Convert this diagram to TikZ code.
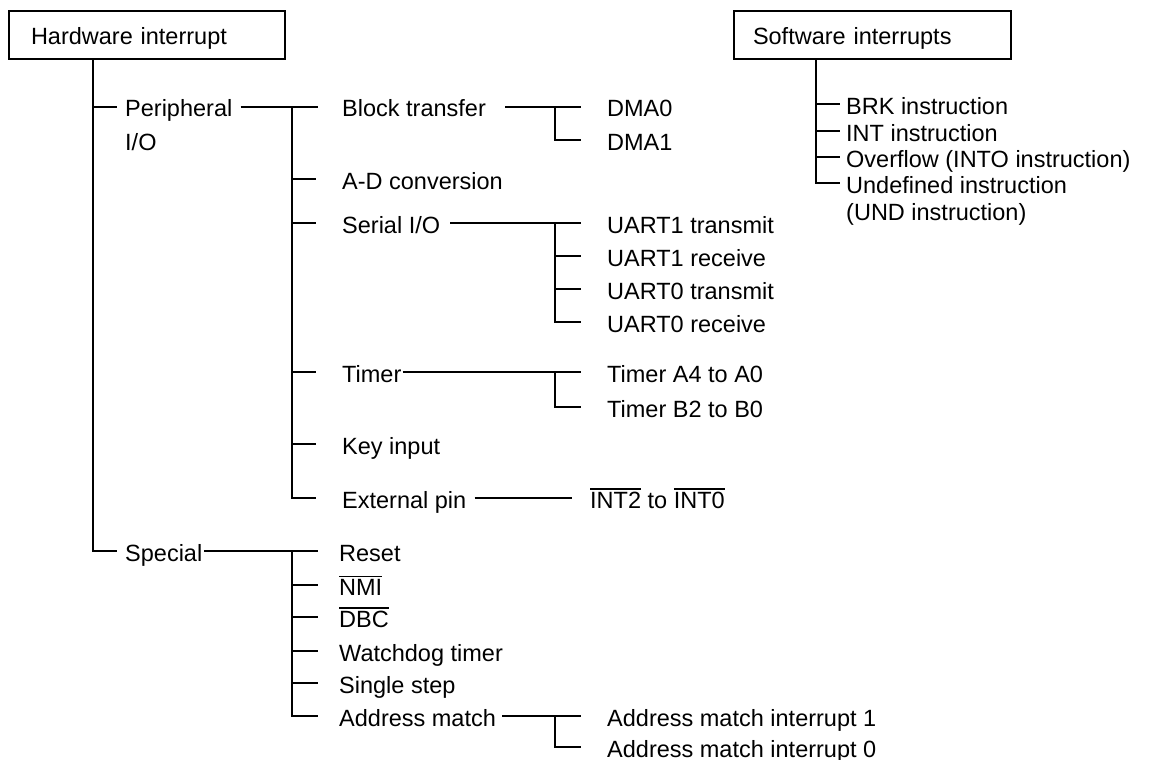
\documentclass[tikz,border=0pt]{standalone}
\usepackage{fontspec}
\setmainfont{Liberation Sans}
\newcommand\ovl[1]{\leavevmode\vbox{\hrule height 1.4pt\kern 1.8pt\hbox{#1}}}
\begin{document}
\begin{tikzpicture}[x=1pt,y=-1pt,
  every node/.style={font=\fontsize{23.5}{28}\selectfont},
  lbl/.style={anchor=west, inner sep=0pt, text height=22pt, text depth=2pt},
  hdr/.style={draw, line width=2pt, anchor=west, align=left, inner ysep=0pt,
              minimum height=48pt, text height=22pt, text depth=2pt},
  ln/.style={line width=2pt}]
\useasboundingbox (0,0) rectangle (1160,760);

% header boxes
\node[hdr, inner xsep=22pt, text width=232pt] (hw) at (8,35) {Hardware interrupt};
\node[hdr, inner xsep=19pt, text width=239pt] (sw) at (733,35) {Software interrupts};

% spine x positions
\coordinate (m) at (93,0);
\coordinate (p) at (292,0);
\coordinate (q) at (555,0);
\coordinate (s) at (816,0);

% level 1
\node[lbl] (per) at (125,107) {Peripheral};
\node[lbl] (per2) at (125,140) {I/O};
\node[lbl] (spc) at (125,551) {Special};

% peripheral I/O
\node[lbl] (blk) at (342,107) {Block transfer};
\node[lbl] (adc) at (342,179) {A-D conversion};
\node[lbl] (ser) at (342,223) {Serial I/O};
\node[lbl] (tim) at (342,372) {Timer};
\node[lbl] (key) at (342,444) {Key input};
\node[lbl] (ext) at (342,498) {External pin};

\node[lbl] (dma0) at (607,107) {DMA0};
\node[lbl] (dma1) at (607,140) {DMA1};
\node[lbl] (u1t) at (607,223) {UART1 transmit};
\node[lbl] (u1r) at (607,256) {UART1 receive};
\node[lbl] (u0t) at (607,289) {UART0 transmit};
\node[lbl] (u0r) at (607,322) {UART0 receive};
\node[lbl] (ta) at (607,372) {Timer A4 to A0};
\node[lbl] (tb) at (607,407) {Timer B2 to B0};
\node[lbl] (int) at (590,498) {\ovl{INT2} to \ovl{INT0}};

% special
\node[lbl] (rst) at (339,551) {Reset};
\node[lbl] (nmi) at (339,585) {\ovl{NMI}};
\node[lbl] (dbc) at (339,617) {\ovl{DBC}};
\node[lbl] (wdt) at (339,651) {Watchdog timer};
\node[lbl] (sst) at (339,683) {Single step};
\node[lbl] (adm) at (339,716) {Address match};
\node[lbl] (am1) at (607,716) {Address match interrupt 1};
\node[lbl] (am0) at (607,747) {Address match interrupt 0};

% software
\node[lbl] (brk) at (846,104) {BRK instruction};
\node[lbl] (intn) at (846,131) {INT instruction};
\node[lbl] (ovf) at (846,157) {Overflow (INTO instruction)};
\node[lbl] (und) at (846,183) {Undefined instruction};
\node[lbl] (und2) at (846,210) {(UND instruction)};

% connectors: hardware
\draw[ln, shorten >=8pt] (hw.south -| m) |- (spc.west);
\draw[ln, shorten >=8pt] (m |- per.west) -- (per.west);
\draw[ln, shorten <=8pt, shorten >=24pt] (per.east) -- (blk.west);
\draw[ln, shorten >=26pt] (p |- blk.west) |- (ext.west);
\foreach \n in {adc,ser,tim,key}
  \draw[ln, shorten >=26pt] (p |- \n.west) -- (\n.west);
\draw[ln, shorten <=19pt, shorten >=26pt] (blk.east) -- (dma0.west);
\draw[ln, shorten >=26pt] (q |- dma0.west) |- (dma1.west);
\draw[ln, shorten <=10pt, shorten >=26pt] (ser.east) -- (u1t.west);
\draw[ln, shorten >=26pt] (q |- u1t.west) |- (u0r.west);
\foreach \n in {u1r,u0t}
  \draw[ln, shorten >=26pt] (q |- \n.west) -- (\n.west);
\draw[ln, shorten <=1pt, shorten >=26pt] (tim.east) -- (ta.west);
\draw[ln, shorten >=26pt] (q |- ta.west) |- (tb.west);
\draw[ln, shorten <=8pt, shorten >=18pt] (ext.east) -- (int.west);
% special
\draw[ln, shorten <=2pt, shorten >=21pt] (spc.east) -- (rst.west);
\draw[ln, shorten >=21pt] (p |- rst.west) |- (adm.west);
\foreach \n in {nmi,dbc,wdt,sst}
  \draw[ln, shorten >=21pt] (p |- \n.west) -- (\n.west);
\draw[ln, shorten <=6pt, shorten >=26pt] (adm.east) -- (am1.west);
\draw[ln, shorten >=26pt] (q |- am1.west) |- (am0.west);
% software
\draw[ln, shorten >=6pt] (sw.south -| s) |- (und.west);
\foreach \n in {brk,intn,ovf}
  \draw[ln, shorten >=6pt] (s |- \n.west) -- (\n.west);
\end{tikzpicture}
\end{document}
